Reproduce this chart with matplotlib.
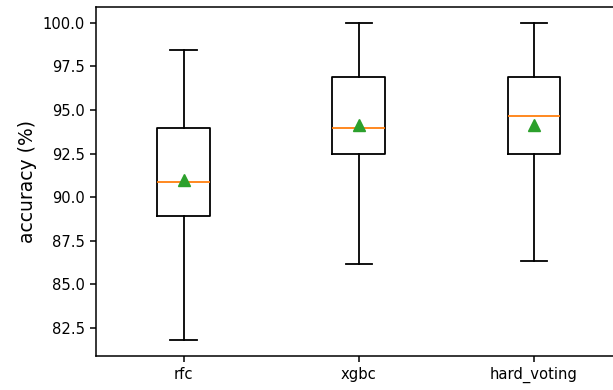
import matplotlib
matplotlib.use("Agg")
import matplotlib.pyplot as plt

# box statistics (accuracy in %)
models = ["rfc", "xgbc", "hard_voting"]
whislo = [81.8, 86.15, 86.35]
q1 = [88.9, 92.45, 92.45]
med = [90.9, 93.95, 94.65]
q3 = [93.95, 96.9, 96.9]
whishi = [98.45, 100.0, 100.0]
means = [91.0, 94.15, 94.15]

stats = []
for i in range(len(models)):
    stats.append(dict(label=models[i], whislo=whislo[i], q1=q1[i], med=med[i],
                      q3=q3[i], whishi=whishi[i], mean=means[i], fliers=[]))

fig = plt.figure(figsize=(6.13, 3.90), dpi=100)
ax = fig.add_axes([96 / 613, 34 / 390, 525.5 / 613, 349 / 390])

lw = 1.3
ax.bxp(stats, showmeans=True,
       boxprops=dict(linewidth=lw),
       whiskerprops=dict(linewidth=lw),
       capprops=dict(linewidth=lw),
       medianprops=dict(linewidth=lw, color="C1"),
       meanprops=dict(marker="^", markerfacecolor="C2", markeredgecolor="C2", markersize=8))

ax.set_ylabel("accuracy (%)", fontsize=13.5)
ax.tick_params(labelsize=10.6, width=1.1, length=4.5)
for s in ax.spines.values():
    s.set_linewidth(1.1)

fig.savefig("out.png", dpi=100)
